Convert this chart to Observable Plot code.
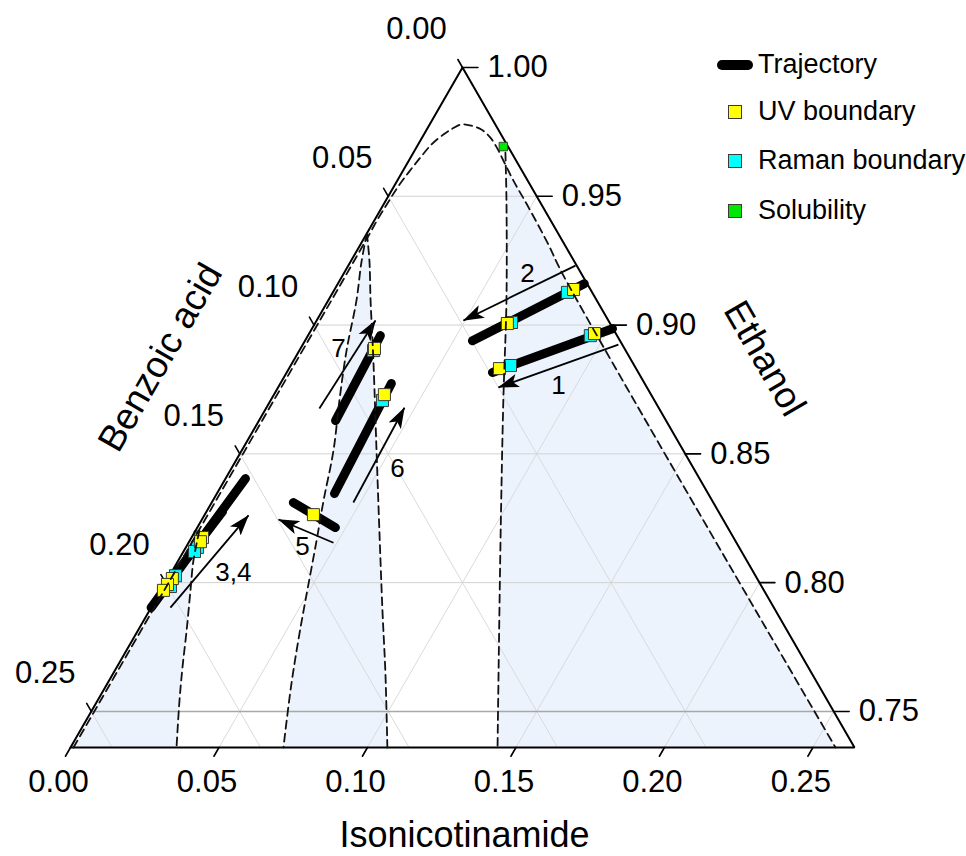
<!DOCTYPE html>
<html><head><meta charset="utf-8">
<script src="https://cdn.jsdelivr.net/npm/d3@7"></script>
<script src="https://cdn.jsdelivr.net/npm/@observablehq/plot@0.6"></script>
<style>
html,body{margin:0;padding:0;background:#fff;}
#wrap{position:relative;width:966px;height:856px;font-family:"Liberation Sans",Arial,Helvetica,sans-serif;}
#wrap svg{display:block;}
.lg{position:absolute;}
.lgt{position:absolute;font-size:27px;line-height:27px;color:#000;white-space:nowrap;}
.sq{position:absolute;width:12px;height:12px;border:1px solid #3a3a3a;}
</style></head><body><div id="wrap"></div>
<script>
// ---------- axis setup ----------
const EMIN = 0.736;               // ethanol fraction on the bottom edge
const SPAN = 1 - EMIN;
const S3 = Math.sqrt(3) / 2;

const benzoicTicks = [0.00, 0.05, 0.10, 0.15, 0.20, 0.25];
const isoTicks = [0.00, 0.05, 0.10, 0.15, 0.20, 0.25];
const ethanolTicks = [0.75, 0.80, 0.85, 0.90, 0.95, 1.00];
const gridBI = [0.05, 0.10, 0.15, 0.20, 0.25];
const gridE = [0.75, 0.80, 0.85, 0.90, 0.95];

// ---------- data: [benzoic acid, isonicotinamide] mass fractions ----------
const trajectories = [
  ["1", 0.0491, 0.0693], ["1", 0.0002, 0.1012],
  ["2", 0.0497, 0.0564], ["2", 0.0010, 0.0830],
  ["3", 0.2097, 0.0000], ["3", 0.1529, 0.0067],
  ["4", 0.1877, 0.0025], ["4", 0.1670, 0.0054],
  ["5", 0.1414, 0.0275], ["5", 0.1321, 0.0465],
  ["6", 0.1258, 0.0396], ["6", 0.0853, 0.0374],
  ["7", 0.1113, 0.0258], ["7", 0.0797, 0.0244]
];
const uvPoints = [[0.0057,0.0805],[0.0346,0.0648],[0.0072,0.0961],[0.0460,0.0709],[0.0842,0.0249],
  [0.0898,0.0372],[0.1370,0.0366],[0.1788,0.0037],[0.1803,0.0038],[0.1969,0.0015],[0.1997,0.0010],[0.2022,0.0008]];
const ramanPoints = [[0.0083,0.0790],[0.0330,0.0660],[0.0090,0.0951],[0.0417,0.0740],[0.0849,0.0250],
  [0.0916,0.0377],[0.1824,0.0039],[0.1842,0.0037],[0.1953,0.0020],[0.1991,0.0024]];
const solubilityPoints = [[0.0016,0.0291],[0.1800,0.0008]];
// arrows: [label, B start, I start, B end, I end]
const arrows = [["1",0.0013,0.1063,0.0500,0.0742],["2",0.0004,0.0765,0.0488,0.0494],
  ["3,4",0.2032,0.0065,0.1590,0.0149],["5",0.1357,0.0488,0.1497,0.0258],
  ["6",0.1212,0.0477,0.0856,0.0465],["7",0.1144,0.0180,0.0784,0.0198]];
const arrowLabels = [["1",0.0294,0.0941],["2",0.0181,0.0619],["3,4",0.1752,0.0209],
  ["5",0.1469,0.0391],["6",0.0998,0.0560],["7",0.0963,0.0128]];
// dashed boundaries
const outerBoundary = [[0.2630,0.0010],[0.0635,0.0010],[0.0582,0.0009],[0.0517,0.0011],[0.0452,0.0014],
  [0.0386,0.0022],[0.0322,0.0032],[0.0254,0.0045],[0.0189,0.0068],[0.0152,0.0085],[0.0114,0.0107],
  [0.0083,0.0143],[0.0057,0.0184],[0.0042,0.0230],[0.0040,0.0275],[0.0043,0.0319],[0.0048,0.0391],
  [0.0049,0.0487],[0.0054,0.0626],[0.0064,0.0744],[0.0064,0.2576]];
const rightBoundary = [[0.0021,0.0310],[0.0110,0.0406],[0.0304,0.0600],[0.0509,0.0784],[0.0790,0.1046],[0.1202,0.1438]];
const midLeftBoundary = [[0.0644,0.0000],[0.0719,0.0038],[0.0809,0.0095],[0.0940,0.0159],[0.1061,0.0232],
  [0.1178,0.0309],[0.1309,0.0373],[0.1410,0.0427],[0.1564,0.0506],[0.1648,0.0550],[0.1772,0.0620],[0.1923,0.0717]];
const midRightBoundary = [[0.0644,0.0000],[0.0688,0.0061],[0.0762,0.0143],[0.0869,0.0269],[0.1033,0.0454],
  [0.1184,0.0625],[0.1324,0.0785],[0.1436,0.0917],[0.1573,0.1067]];
const leftInnerBoundary = [[0.1785,0.0013],[0.1863,0.0051],[0.1931,0.0099],[0.2022,0.0164],[0.2108,0.0222],
  [0.2182,0.0276],[0.2283,0.0357]];

// ---------- ternary projection ----------
const X = d => d.i + (1 - d.b - d.i - EMIN) / 2;
const Y = d => (1 - d.b - d.i - EMIN) * S3;
const pts = (arr, key) => arr.map(([b, i]) => ({b, i, key}));

// shaded regions built from the boundaries
const shades = [
  ...pts(leftInnerBoundary.concat([outerBoundary[0], [0.1768, 0.0010]]), "L"),
  ...pts(midLeftBoundary.concat(midRightBoundary.slice().reverse()), "M"),
  ...pts([[0.0047,0.0345]].concat(rightBoundary.slice(1), [outerBoundary[outerBoundary.length-1]],
        outerBoundary.slice(15, 20).reverse()), "R")
];

// grid
const grid = [];
gridBI.forEach(v => { grid.push({b:v,i:0,key:"b"+v},{b:v,i:SPAN-v,key:"b"+v}); });
gridBI.forEach(v => { grid.push({b:0,i:v,key:"i"+v},{b:SPAN-v,i:v,key:"i"+v}); });
const gridEData = [];
gridE.forEach(v => { gridEData.push({b:1-v,i:0,key:"e"+v},{b:0,i:1-v,key:"e"+v}); });

const tri = [{b:SPAN,i:0},{b:0,i:0},{b:0,i:SPAN},{b:SPAN,i:0},{b:0,i:0}];

// ticks
const ticks = [];
benzoicTicks.forEach(v => ticks.push({b:v,i:0,key:"B"+v},{b:v,i:-0.0031,key:"B"+v}));
isoTicks.forEach(v => ticks.push({b:SPAN-v,i:v,key:"I"+v},{b:SPAN-v+0.0034,i:v,key:"I"+v}));
ethanolTicks.forEach(v => ticks.push({b:0,i:1-v,key:"E"+v},{b:-0.0052,i:1-v+0.0052,key:"E"+v}));

const fmt = d3.format(".2f");
const bLab = benzoicTicks.map(v => ({b:v,i:0,t:fmt(v)}));
const iLab = isoTicks.map(v => ({b:SPAN-v,i:v,t:fmt(v)}));
const eLab = ethanolTicks.map(v => ({b:0,i:1-v,t:fmt(v)}));

const trajData = trajectories.map(([key,b,i]) => ({key,b,i}));
const arrowData = arrows.map(([key,b1,i1,b2,i2]) => ({key, p1:{b:b1,i:i1}, p2:{b:b2,i:i2}}));
const arrowLabData = arrowLabels.map(([t,b,i]) => ({t,b,i}));

const dashed = [
  ...pts(outerBoundary,"o"), ...pts(rightBoundary,"r"), ...pts(midLeftBoundary,"ml"),
  ...pts(midRightBoundary,"mr"), ...pts(leftInnerBoundary,"li")
];

const svg = Plot.plot({
  width: 966, height: 856,
  marginTop: 0, marginRight: 0, marginBottom: 0, marginLeft: 0,
  x: {domain: [0, SPAN], range: [70, 854], axis: null},
  y: {domain: [0, SPAN * S3], range: [747, 67], axis: null},
  style: {fontFamily: '"Liberation Sans", Arial, Helvetica, sans-serif', background: "#fff", color: "#000", overflow: "visible"},
  marks: [
    Plot.line(shades, {x: X, y: Y, z: "key", fill: "#ecf3fd", stroke: "none"}),
    Plot.line(grid, {x: X, y: Y, z: "key", stroke: "#dadada", strokeWidth: 1}),
    Plot.line(gridEData, {x: X, y: Y, z: "key", stroke: d => d.key === "e0.75" ? "#a8a8a8" : "#d2d2d2", strokeWidth: d => d.key === "e0.75" ? 1.5 : 1}),
    Plot.dot(pts(solubilityPoints), {x: X, y: Y, symbol: "square", r: 2.6, fill: "#00e600", stroke: "#2a2a2a", strokeWidth: 0.8}),
    Plot.line(tri, {x: X, y: Y, stroke: "#000", strokeWidth: 2, strokeLinejoin: "miter"}),
    Plot.line(ticks, {x: X, y: Y, z: "key", stroke: "#000", strokeWidth: 1.6}),
    Plot.text(bLab, {x: X, y: Y, text: "t", dx: -46, dy: -38, fontSize: 31, textAnchor: "middle", lineAnchor: "middle"}),
    Plot.text(iLab, {x: X, y: Y, text: "t", dx: -12, dy: 35, fontSize: 31, textAnchor: "middle", lineAnchor: "middle"}),
    Plot.text(eLab, {x: X, y: Y, text: "t", dx: 25, dy: 0, fontSize: 31, textAnchor: "start", lineAnchor: "middle"}),
    Plot.text([{b:SPAN/2,i:0,t:"Benzoic acid"}], {x: X, y: Y, text: "t", rotate: -60, dx: -106, dy: -50, fontSize: 37, textAnchor: "middle", lineAnchor: "middle"}),
    Plot.text([{b:0,i:SPAN/2,t:"Ethanol"}], {x: X, y: Y, text: "t", rotate: 60, dx: 106, dy: -49, fontSize: 37, textAnchor: "middle", lineAnchor: "middle"}),
    Plot.text([{b:SPAN/2,i:SPAN/2,t:"Isonicotinamide"}], {x: X, y: Y, text: "t", dx: 2, dy: 88, fontSize: 36, textAnchor: "middle", lineAnchor: "middle"}),
    Plot.line(trajData, {x: X, y: Y, z: "key", stroke: "#000", strokeWidth: 9, strokeLinecap: "round"}),
    Plot.link(arrowData, {x1: d => X(d.p1), y1: d => Y(d.p1), x2: d => X(d.p2), y2: d => Y(d.p2), stroke: "#000", strokeWidth: 1.8}),
    Plot.text(arrowLabData, {x: X, y: Y, text: "t", fontSize: 26, textAnchor: "middle", lineAnchor: "middle"}),
    Plot.dot(pts(ramanPoints), {x: X, y: Y, symbol: "square", r: 6.8, fill: "#00ffff", stroke: "#3a3a3a", strokeWidth: 1}),
    Plot.dot(pts(uvPoints), {x: X, y: Y, symbol: "square", r: 6.8, fill: "#ffff00", stroke: "#3a3a3a", strokeWidth: 1}),
    Plot.dot(pts(solubilityPoints.slice(0,1)), {x: X, y: Y, symbol: "square", r: 4.8, fill: "#00e600", stroke: "#2a2a2a", strokeWidth: 0.8}),
    Plot.line(dashed, {x: X, y: Y, z: "key", curve: "catmull-rom", stroke: "#111", strokeWidth: 1.8, strokeDasharray: "8,5"})
  ]
});

// filled stealth arrowheads on the arrow links
const defs = d3.select(svg).insert("defs", ":first-child");
defs.append("marker").attr("id", "ah").attr("viewBox", "0 -8 21 16").attr("refX", 20.5).attr("refY", 0)
  .attr("markerWidth", 21).attr("markerHeight", 16).attr("markerUnits", "userSpaceOnUse").attr("orient", "auto")
  .append("path").attr("d", "M0,-7L21,0L0,7L5,0Z").attr("fill", "#000");
d3.select(svg).selectAll('g[aria-label="link"] path, g[aria-label="link"] line').attr("marker-end", "url(#ah)");

const wrap = document.getElementById("wrap");
wrap.appendChild(svg);

// legend (top right)
const legendItems = [
  {label: "Trajectory", kind: "line", color: "#000", cy: 65},
  {label: "UV boundary", kind: "sq", color: "#ffff00", cy: 112},
  {label: "Raman boundary", kind: "sq", color: "#00ffff", cy: 161},
  {label: "Solubility", kind: "sq", color: "#00e600", cy: 211}
];
legendItems.forEach(it => {
  if (it.kind === "line") {
    const l = document.createElement("div");
    l.className = "lg";
    Object.assign(l.style, {left: "717px", top: (it.cy - 5) + "px", width: "36px", height: "10px", borderRadius: "5px", background: it.color});
    wrap.appendChild(l);
  } else {
    const s = document.createElement("div");
    s.className = "sq";
    Object.assign(s.style, {left: "728px", top: (it.cy - 7) + "px", background: it.color});
    wrap.appendChild(s);
  }
  const t = document.createElement("div");
  t.className = "lgt";
  t.textContent = it.label;
  Object.assign(t.style, {left: "758px", top: (it.cy - 14) + "px"});
  wrap.appendChild(t);
});
</script></body></html>
